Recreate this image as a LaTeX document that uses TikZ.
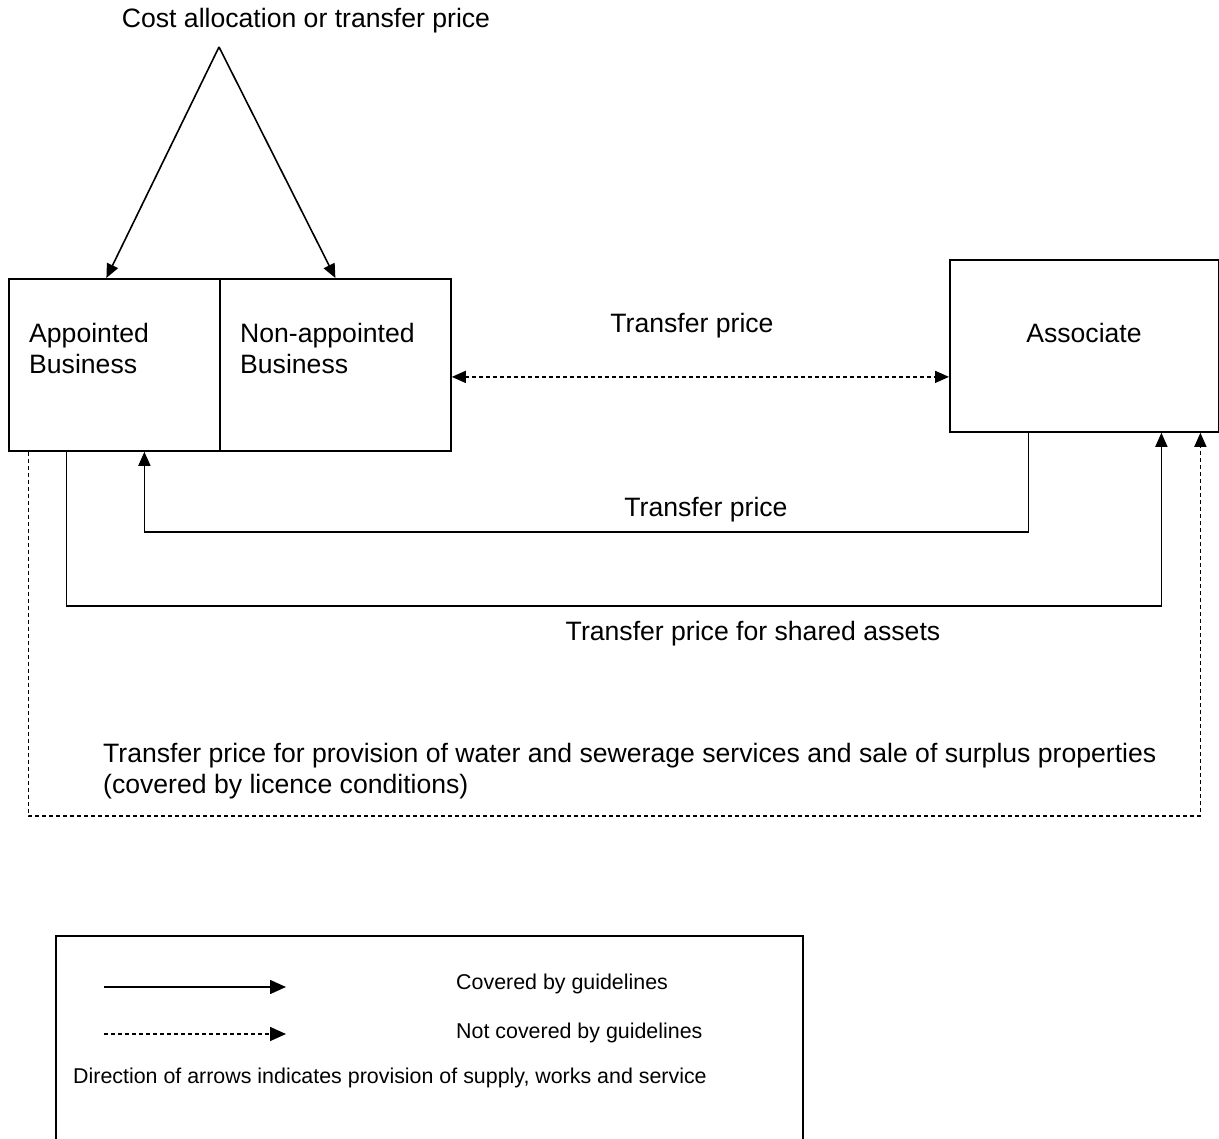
\documentclass[tikz,border=0pt]{standalone}
\usepackage{fontspec}
\setmainfont{Liberation Sans}
\usetikzlibrary{arrows.meta}

\tikzset{
  box/.style={draw,line width=1.8pt,inner sep=0pt},
  wire/.style={line width=1.6pt},
  tip/.style={-{Triangle[length=14pt,width=12pt]}},
  dashwire/.style={wire,dash pattern=on 4pt off 3pt},
  big/.style={font=\fontsize{26.6}{31}\selectfont,inner sep=0pt},
  small/.style={font=\fontsize{21.4}{24}\selectfont,inner sep=0pt}
}

\begin{document}
\begin{tikzpicture}[x=1pt,y=-1pt]
\useasboundingbox (0,0) rectangle (1219,1139);
\clip (0,0) rectangle (1219,1139);

% boxes
\path (8,278)   node[box,anchor=north west,minimum width=211pt,minimum height=172pt] (Appointed) {};
\path (219,278) node[box,anchor=north west,minimum width=231pt,minimum height=172pt] (NonAppointed) {};
\path (949,259) node[box,anchor=north west,minimum width=269pt,minimum height=172pt] (Associate) {};
\path (55,935)  node[box,anchor=north west,minimum width=747pt,minimum height=260pt] (Legend) {};

% texts
\path (306,28)  node[big,anchor=base] (CostText) {Cost allocation or transfer price};
\path (29,374)  node[big,anchor=base west,align=left] (AppointedText) {Appointed\\Business};
\path (240,374) node[big,anchor=base west,align=left] (NonAppointedText) {Non-appointed\\Business};
\path (1084,343) node[big,anchor=base] (AssociateText) {Associate};
\path (692,333) node[big,anchor=base] (TopPrice) {Transfer price};
\path (706,517) node[big,anchor=base] (MidPrice) {Transfer price};
\path (753,640) node[big,anchor=base] (SharedPrice) {Transfer price for shared assets};
\path (103,793) node[big,anchor=base west,align=left] (WaterPrice)
  {Transfer price for provision of water and sewerage services and sale of surplus properties\\(covered by licence conditions)};

% edges
\coordinate (Apex) at (219,47);
\draw[wire,tip] (Apex) -- ([xshift=-8pt]Appointed.north);
\draw[wire,tip] (Apex) -- (NonAppointed.north);

\draw[dashwire,{Triangle[length=14pt,width=12pt]}-{Triangle[length=14pt,width=12pt]}]
  ([yshift=-12pt]NonAppointed.east) -- ([yshift=-12pt]NonAppointed.east -| Associate.west);

\draw[wire,tip] ([xshift=-56pt]Associate.south) -- ++(0,99) -| ([xshift=30pt]Appointed.south);
\draw[wire,tip] ([xshift=-48pt]Appointed.south) -- ++(0,154) -| ([xshift=77pt]Associate.south);
\draw[dashwire,tip] ([xshift=-86pt]Appointed.south) -- ++(0,364) -| ([xshift=116pt]Associate.south);

% legend
\coordinate (SolidFrom) at (104,987);
\coordinate (SolidTo) at (286,987);
\coordinate (DashFrom) at (104,1034);
\coordinate (DashTo) at (286,1034);
\draw[wire,-{Triangle[length=16pt,width=14pt]}] (SolidFrom) -- (SolidTo);
\draw[dashwire,-{Triangle[length=16pt,width=14pt]}] (DashFrom) -- (DashTo);
\path (456,989)  node[small,anchor=base west] (CoveredText) {Covered by guidelines};
\path (456,1038) node[small,anchor=base west] (NotCoveredText) {Not covered by guidelines};
\path (73,1083)  node[small,anchor=base west] (DirectionText) {Direction of arrows indicates provision of supply, works and service};

\end{tikzpicture}
\end{document}
